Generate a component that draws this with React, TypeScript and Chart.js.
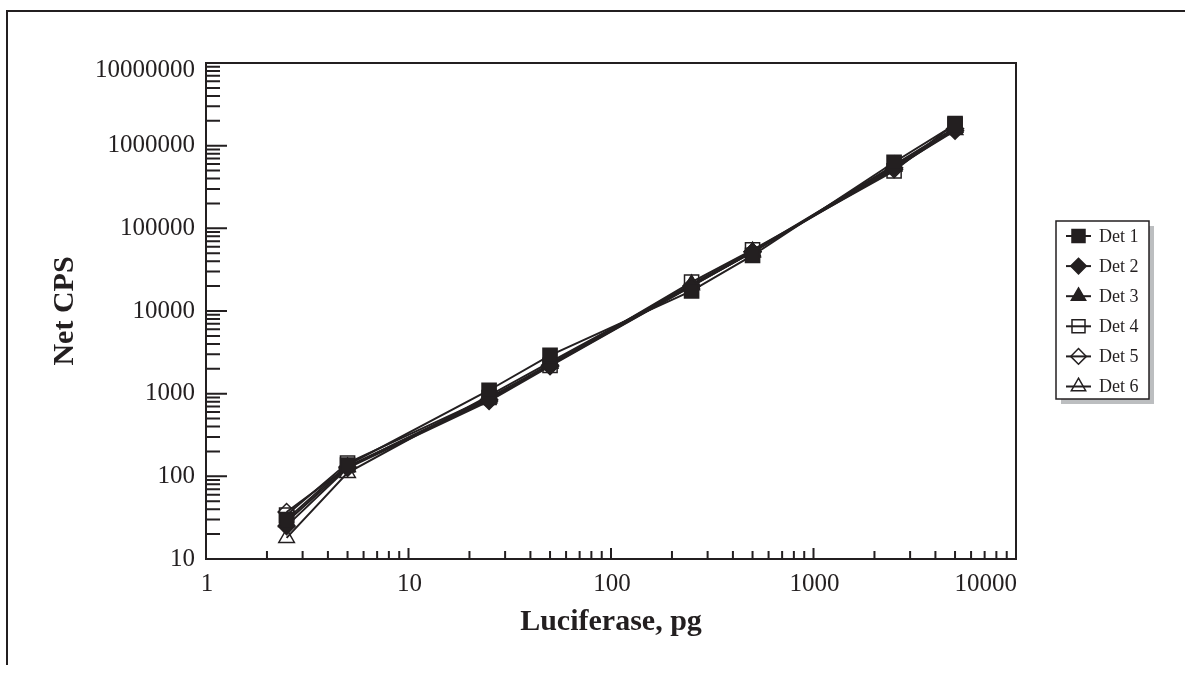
import React, { useEffect, useRef } from 'react';
import { Chart, registerables } from 'chart.js';

Chart.register(...registerables);

// ---------- data ----------
const xValues = [2.5, 5, 25, 50, 250, 500, 2500, 5000];
const det1 = [30, 137, 1100, 2900, 17500, 47000, 630000, 1800000];
const det2 = [25, 126, 815, 2150, 20000, 52000, 540000, 1520000];
const det3 = [28, 130, 880, 2300, 21200, 53000, 560000, 1550000];
const det4 = [34, 145, 900, 2200, 22400, 55000, 495000, 1850000];
const det5 = [37, 130, 850, 2200, 20000, 52000, 520000, 1600000];
const det6 = [18, 110, 950, 2400, 20500, 51000, 580000, 1650000];
const seriesLabels = ['Det 1', 'Det 2', 'Det 3', 'Det 4', 'Det 5', 'Det 6'];
const seriesValues = [det1, det2, det3, det4, det5, det6];
const xTickLabels = ['1', '10', '100', '1000', '10000'];
const yTickLabels = ['10', '100', '1000', '10000', '100000', '1000000', '10000000'];
const xTitle = 'Luciferase, pg';
const yTitle = 'Net CPS';

// ---------- styles ----------
const INK = '#231f20';
const FONT = '"Liberation Serif", "Times New Roman", serif';
const markerStyles = [
  { pointStyle: 'rect', filled: true, r: 10 },
  { pointStyle: 'rectRot', filled: true, r: 8.5 },
  { pointStyle: 'triangle', filled: true, r: 9 },
  { pointStyle: 'rect', filled: false, r: 10 },
  { pointStyle: 'rectRot', filled: false, r: 8.5 },
  { pointStyle: 'triangle', filled: false, r: 9 },
];

function drawMarker(ctx: CanvasRenderingContext2D, style: string, x: number, y: number, r: number, filled: boolean) {
  ctx.beginPath();
  if (style === 'rect') {
    const s = Math.SQRT1_2 * r;
    ctx.rect(x - s, y - s, 2 * s, 2 * s);
  } else if (style === 'rectRot') {
    ctx.moveTo(x, y - r);
    ctx.lineTo(x + r, y);
    ctx.lineTo(x, y + r);
    ctx.lineTo(x - r, y);
    ctx.closePath();
  } else {
    let rad = 0;
    ctx.moveTo(x + Math.sin(rad) * r, y - Math.cos(rad) * r);
    rad += (2 * Math.PI) / 3;
    ctx.lineTo(x + Math.sin(rad) * r, y - Math.cos(rad) * r);
    rad += (2 * Math.PI) / 3;
    ctx.lineTo(x + Math.sin(rad) * r, y - Math.cos(rad) * r);
    ctx.closePath();
  }
  if (filled) {
    ctx.fillStyle = INK;
    ctx.fill();
  }
  ctx.strokeStyle = INK;
  ctx.lineWidth = 1.5;
  ctx.stroke();
}

const axesPlugin = {
  id: 'axesPlugin',
  afterDraw(chart: any) {
    const ctx: CanvasRenderingContext2D = chart.ctx;
    const { left, right, top, bottom } = chart.chartArea;
    const xs = chart.scales.x;
    const ys = chart.scales.y;
    ctx.save();
    ctx.strokeStyle = INK;
    ctx.lineWidth = 2;
    // frame
    ctx.strokeRect(left, top, right - left, bottom - top);
    // x ticks (inward)
    const xMajors = xTickLabels.map(Number);
    ctx.beginPath();
    xMajors.forEach((d, i) => {
      const px = xs.getPixelForValue(d);
      ctx.moveTo(px, bottom);
      ctx.lineTo(px, bottom - 11);
      if (i < xMajors.length - 1) {
        for (let k = 2; k <= 9; k++) {
          const p = xs.getPixelForValue(d * k);
          ctx.moveTo(p, bottom);
          ctx.lineTo(p, bottom - 8);
        }
      }
    });
    // y ticks (inward)
    const yMajors = yTickLabels.map(Number);
    yMajors.forEach((d, i) => {
      const py = ys.getPixelForValue(d);
      ctx.moveTo(left, py);
      ctx.lineTo(left + 21, py);
      if (i < yMajors.length - 1) {
        for (let k = 2; k <= 9; k++) {
          const p = ys.getPixelForValue(d * k);
          ctx.moveTo(left, p);
          ctx.lineTo(left + 14, p);
        }
      }
    });
    ctx.stroke();
    // tick labels
    ctx.fillStyle = INK;
    ctx.font = `25px ${FONT}`;
    ctx.textBaseline = 'alphabetic';
    xTickLabels.forEach((lab, i) => {
      const px = xs.getPixelForValue(Number(lab));
      ctx.textAlign = i === xTickLabels.length - 1 ? 'right' : 'center';
      ctx.fillText(lab, px + 1, bottom + 32);
    });
    ctx.textAlign = 'right';
    ctx.textBaseline = 'middle';
    yTickLabels.forEach((lab) => {
      const py = ys.getPixelForValue(Number(lab));
      ctx.fillText(lab, left - 11, Math.max(py, top + 7));
    });
    ctx.restore();
  },
};

const legendPlugin = {
  id: 'boxLegend',
  afterDraw(chart: any) {
    const ctx: CanvasRenderingContext2D = chart.ctx;
    const lx = 1056, ly = 221, lw = 93, lh = 178;
    ctx.save();
    ctx.fillStyle = '#bcbec0';
    ctx.fillRect(lx + 5, ly + 5, lw, lh);
    ctx.fillStyle = '#ffffff';
    ctx.fillRect(lx, ly, lw, lh);
    ctx.strokeStyle = INK;
    ctx.lineWidth = 1.5;
    ctx.strokeRect(lx, ly, lw, lh);
    chart.data.datasets.forEach((ds: any, i: number) => {
      const cy = 236 + i * 30.1;
      const st = markerStyles[i];
      ctx.beginPath();
      ctx.strokeStyle = INK;
      ctx.lineWidth = 2;
      ctx.moveTo(1066, cy);
      ctx.lineTo(1091, cy);
      ctx.stroke();
      drawMarker(ctx, st.pointStyle, 1078.5, cy, st.r * 0.92, st.filled);
      ctx.fillStyle = INK;
      ctx.font = `18px ${FONT}`;
      ctx.textAlign = 'left';
      ctx.textBaseline = 'middle';
      ctx.fillText(ds.label, 1099, cy + 1);
    });
    ctx.restore();
  },
};

export default function App() {
  const canvasRef = useRef<HTMLCanvasElement | null>(null);

  useEffect(() => {
    if (!canvasRef.current) return;
    const datasets = seriesValues.map((vals, i) => {
      const st = markerStyles[i];
      return {
        label: seriesLabels[i],
        data: xValues.map((x, j) => ({ x, y: vals[j] })),
        borderColor: INK,
        borderWidth: 2,
        backgroundColor: st.filled ? INK : 'rgba(255,255,255,0)',
        pointStyle: st.pointStyle,
        pointRadius: st.r,
        pointBorderWidth: 1.5,
        pointBorderColor: INK,
        pointBackgroundColor: st.filled ? INK : 'rgba(255,255,255,0)',
        fill: false,
        tension: 0,
      };
    });

    const chart = new Chart(canvasRef.current, {
      type: 'line',
      data: { datasets } as any,
      options: {
        responsive: false,
        animation: false,
        devicePixelRatio: 1,
        layout: { padding: { top: 63, right: 169, left: 0, bottom: 0 } },
        plugins: {
          legend: { display: false },
          tooltip: { enabled: false },
        },
        scales: {
          x: {
            type: 'logarithmic',
            min: 1,
            max: 10000,
            grid: { display: false, drawTicks: false },
            border: { display: false },
            ticks: { display: false },
            title: {
              display: true,
              text: xTitle,
              color: INK,
              font: { family: FONT, size: 30, weight: 'bold' },
              padding: { top: 0, bottom: 33 },
            },
            afterFit: (scale: any) => {
              scale.height = 114;
            },
          },
          y: {
            type: 'logarithmic',
            min: 10,
            max: 10000000,
            grid: { display: false, drawTicks: false },
            border: { display: false },
            ticks: { display: false },
            title: {
              display: true,
              text: yTitle,
              color: INK,
              font: { family: FONT, size: 30, weight: 'bold' },
              padding: { top: 47, bottom: 0 },
            },
            afterFit: (scale: any) => {
              scale.width = 206;
            },
          },
        },
      } as any,
      plugins: [axesPlugin, legendPlugin],
    });
    return () => chart.destroy();
  }, []);

  return (
    <div style={{ position: 'absolute', left: 0, top: 0, width: 1185, height: 673, overflow: 'hidden', background: '#fff' }}>
      <div
        style={{
          position: 'absolute',
          left: 6,
          top: 10,
          width: 1179,
          height: 655,
          borderTop: `2px solid ${INK}`,
          borderLeft: `2px solid ${INK}`,
          boxSizing: 'border-box',
        }}
      />
      <canvas ref={canvasRef} width={1185} height={673} style={{ position: 'absolute', left: 0, top: 0, width: 1185, height: 673 }} />
    </div>
  );
}
